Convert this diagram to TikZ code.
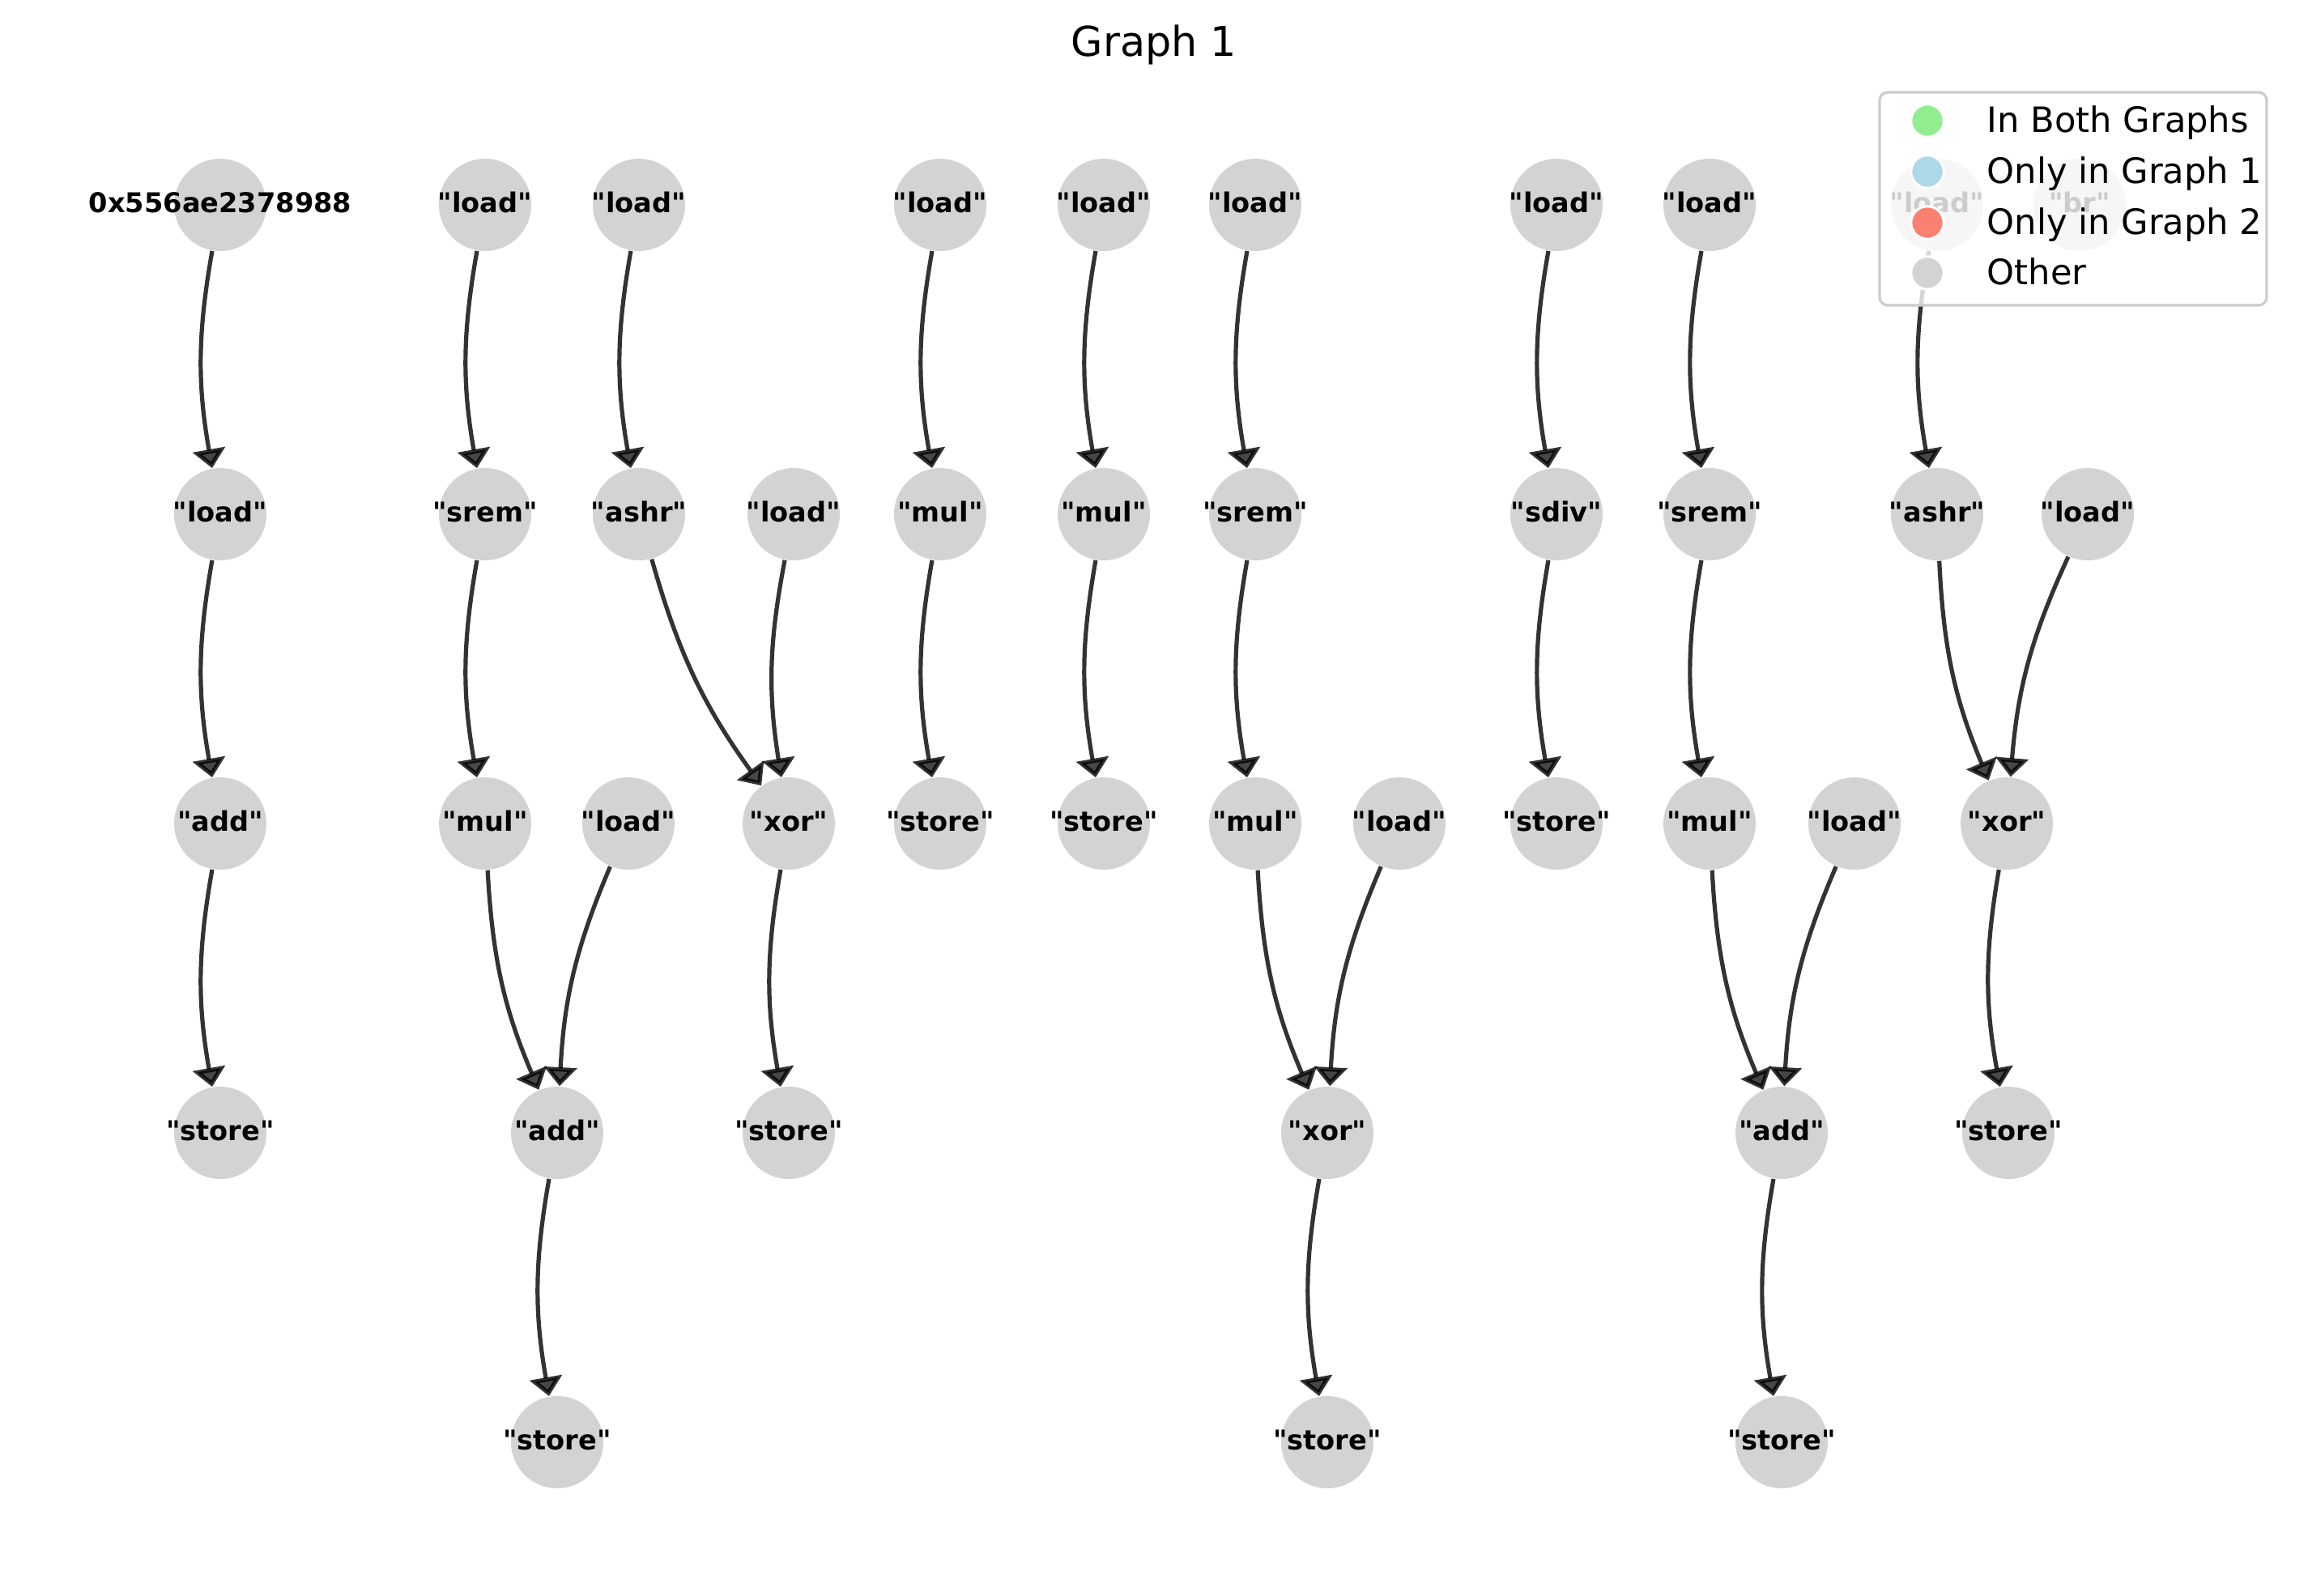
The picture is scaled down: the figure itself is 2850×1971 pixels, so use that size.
\documentclass[tikz,border=0pt]{standalone}
\usepackage{fontspec}
\setmainfont{DejaVu Sans}[Ligatures = TeXOff]
\usetikzlibrary{arrows.meta}
\definecolor{nodegray}{HTML}{D3D3D3}
\definecolor{bothgreen}{HTML}{90EE90}
\definecolor{onlyblue}{HTML}{ADD8E6}
\definecolor{onlyred}{HTML}{FA8072}
\definecolor{framegray}{HTML}{CCCCCC}

\begin{document}
\begin{tikzpicture}[
  x = 0.25pt, y = -0.25pt,
  every node/.style = {inner sep = 0pt},
  op/.style = {circle, fill = nodegray, minimum size = 28.5pt,
    text height = 6.4pt, text depth = 1.7pt,
    font = \fontsize{8.4}{10}\selectfont\bfseries,
    execute at begin node = \hbox to 0pt\bgroup\hss,
    execute at end node = \hss\egroup},
  dep/.style = {draw = black, opacity = 0.8, line width = 1.3pt,
    -{Triangle[width = 10pt, length = 5.8pt, fill = black!90]}, bend right = 10},
  key/.style = {circle, fill = #1, draw = white, line width = 0.75pt, minimum size = 10.1pt},
  keytext/.style = {anchor = base west, font = \fontsize{10.8}{13}\selectfont}
  ]
  \useasboundingbox (0,0) rectangle (2850,1971);
  \node[anchor = base, font = \fontsize{12.7}{15}\selectfont] (title) at (1425,69) {Graph 1};

  \node[op] (hex)   at (272,253)  {0x556ae2378988};
  \node[op] (ld1)   at (272,635)  {"load"};
  \node[op] (add1)  at (272,1017) {"add"};
  \node[op] (st1)   at (272,1399) {"store"};

  \node[op] (ld2)   at (599,253)  {"load"};
  \node[op] (srem2) at (599,635)  {"srem"};
  \node[op] (mul2)  at (599,1017) {"mul"};
  \node[op] (ld2b)  at (776,1017) {"load"};
  \node[op] (add2)  at (688,1399) {"add"};
  \node[op] (st2)   at (688,1781) {"store"};

  \node[op] (ld3)   at (789,253)  {"load"};
  \node[op] (ashr3) at (789,635)  {"ashr"};
  \node[op] (ld3b)  at (980,635)  {"load"};
  \node[op] (xor3)  at (974,1017) {"xor"};
  \node[op] (st3)   at (974,1399) {"store"};

  \node[op] (ld4)   at (1161,253) {"load"};
  \node[op] (mul4)  at (1161,635) {"mul"};
  \node[op] (st4)   at (1161,1017) {"store"};

  \node[op] (ld5)   at (1363,253) {"load"};
  \node[op] (mul5)  at (1363,635) {"mul"};
  \node[op] (st5)   at (1363,1017) {"store"};

  \node[op] (ld6)   at (1550,253) {"load"};
  \node[op] (srem6) at (1550,635) {"srem"};
  \node[op] (mul6)  at (1550,1017) {"mul"};
  \node[op] (ld6b)  at (1728,1017) {"load"};
  \node[op] (xor6)  at (1639,1399) {"xor"};
  \node[op] (st6)   at (1639,1781) {"store"};

  \node[op] (ld7)   at (1922,253) {"load"};
  \node[op] (sdiv7) at (1922,635) {"sdiv"};
  \node[op] (st7)   at (1922,1017) {"store"};

  \node[op] (ld8)   at (2111,253) {"load"};
  \node[op] (srem8) at (2111,635) {"srem"};
  \node[op] (mul8)  at (2111,1017) {"mul"};
  \node[op] (ld8b)  at (2290,1017) {"load"};
  \node[op] (add8)  at (2200,1399) {"add"};
  \node[op] (st8)   at (2200,1781) {"store"};

  \node[op] (ld9)   at (2392,253) {"load"};
  \node[op] (br9)   at (2568,253) {"br"};
  \node[op] (ashr9) at (2392,635) {"ashr"};
  \node[op] (ld9b)  at (2578,635) {"load"};
  \node[op] (xor9)  at (2478,1017) {"xor"};
  \node[op] (st9)   at (2480,1399) {"store"};

  \draw[dep] (hex) to (ld1);    \draw[dep] (ld1) to (add1);     \draw[dep] (add1) to (st1);
  \draw[dep] (ld2) to (srem2);  \draw[dep] (srem2) to (mul2);   \draw[dep] (mul2) to (add2);
  \draw[dep] (ld2b) to (add2);  \draw[dep] (add2) to (st2);
  \draw[dep] (ld3) to (ashr3);  \draw[dep] (ashr3) to (xor3);   \draw[dep] (ld3b) to (xor3);
  \draw[dep] (xor3) to (st3);
  \draw[dep] (ld4) to (mul4);   \draw[dep] (mul4) to (st4);
  \draw[dep] (ld5) to (mul5);   \draw[dep] (mul5) to (st5);
  \draw[dep] (ld6) to (srem6);  \draw[dep] (srem6) to (mul6);   \draw[dep] (mul6) to (xor6);
  \draw[dep] (ld6b) to (xor6);  \draw[dep] (xor6) to (st6);
  \draw[dep] (ld7) to (sdiv7);  \draw[dep] (sdiv7) to (st7);
  \draw[dep] (ld8) to (srem8);  \draw[dep] (srem8) to (mul8);   \draw[dep] (mul8) to (add8);
  \draw[dep] (ld8b) to (add8);  \draw[dep] (add8) to (st8);
  \draw[dep] (ld9) to (ashr9);  \draw[dep] (ashr9) to (xor9);   \draw[dep] (ld9b) to (xor9);
  \draw[dep] (xor9) to (st9);

  \draw[framegray, line width = 0.8pt, fill = white, fill opacity = 0.8, rounded corners = 2.5pt]
    (2321,114) rectangle (2799,377);
  \node[key = bothgreen] (kboth) at (2380,149) {};
  \node[keytext] at (2453,163.3) {In Both Graphs};
  \node[key = onlyblue] (kone) at (2380,212) {};
  \node[keytext] at (2453,226.3) {Only in Graph 1};
  \node[key = onlyred] (ktwo) at (2380,275) {};
  \node[keytext] at (2453,289.3) {Only in Graph 2};
  \node[key = nodegray] (kother) at (2380,337) {};
  \node[keytext] at (2453,351.3) {Other};
\end{tikzpicture}
\end{document}
